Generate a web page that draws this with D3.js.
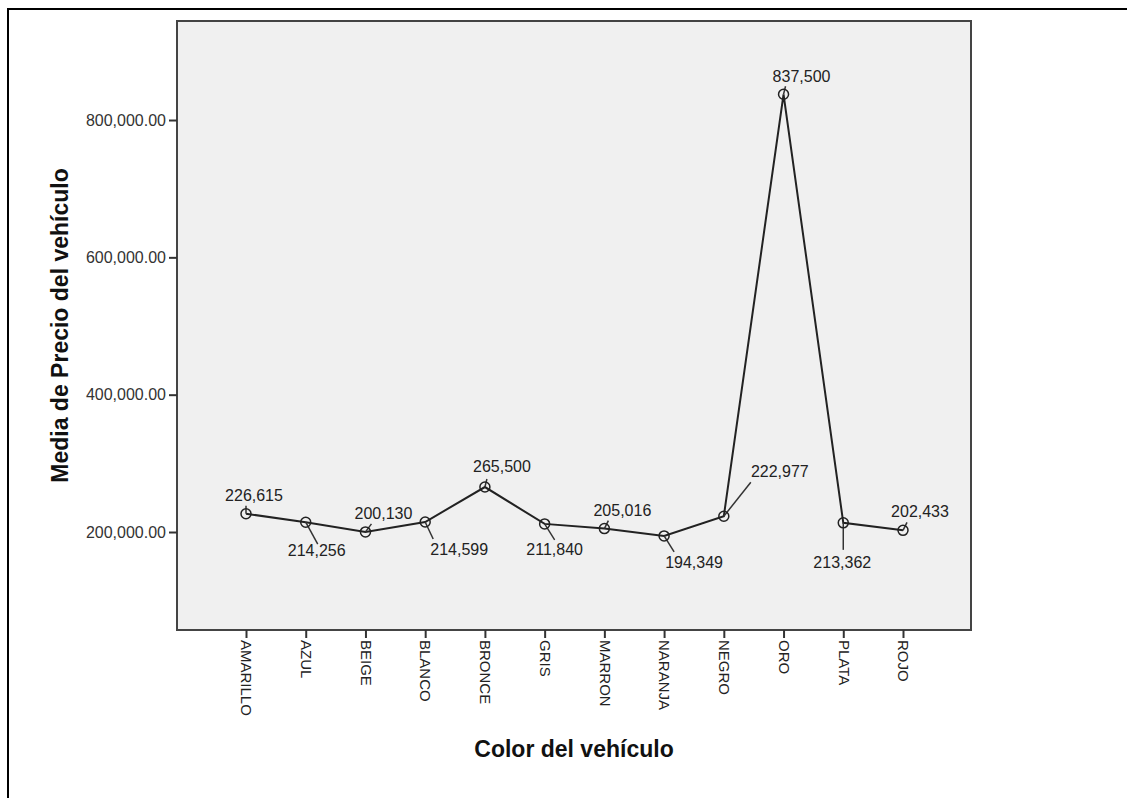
<!DOCTYPE html>
<html>
<head>
<meta charset="utf-8">
<script src="https://cdnjs.cloudflare.com/ajax/libs/d3/7.8.5/d3.min.js"></script>
<style>
  body { margin: 0; background: #fff; }
  svg { display: block; font-family: "Liberation Sans", Arial, sans-serif; }
</style>
</head>
<body>
<script>
// datos
var colores = ["AMARILLO", "AZUL", "BEIGE", "BLANCO", "BRONCE", "GRIS",
               "MARRON", "NARANJA", "NEGRO", "ORO", "PLATA", "ROJO"];
var precios = [226615, 214256, 200130, 214599, 265500, 211840,
               205016, 194349, 222977, 837500, 213362, 202433];
var yTicks = [200000, 400000, 600000, 800000];

// colocacion de etiquetas: texto (centro, linea base) y final de la linea guia, relativo al punto
var textoOff = [[8, -13], [11, 34], [18, -13], [34, 33], [17, -15], [10, 31],
                [18, -13], [30, 32], [56, -39], [18, -12], [-1, 45], [17, -13]];
var guiaOff = [[0, -8], [12, 22], [6, -8], [8, 17], [2, -8], [10, 16],
               [4, -8], [10, 16], [27, -34], [2, -8], [0, 27], [4, -8]];

var W = 1127, H = 798;
var plot = {left: 177, top: 21, right: 971, bottom: 630};

var svg = d3.select("body").append("svg")
  .attr("width", W)
  .attr("height", H);

// marco exterior (solo arriba e izquierda se ven)
svg.append("line").attr("x1", 7).attr("y1", 9).attr("x2", W).attr("y2", 9)
  .attr("stroke", "#000").attr("stroke-width", 2);
svg.append("line").attr("x1", 8).attr("y1", 9).attr("x2", 8).attr("y2", H)
  .attr("stroke", "#000").attr("stroke-width", 2);

var x = d3.scalePoint().domain(colores).range([246, 903]);
var y = d3.scaleLinear().domain([57300, 944200]).range([plot.bottom, plot.top]);

svg.append("rect")
  .attr("x", plot.left).attr("y", plot.top)
  .attr("width", plot.right - plot.left).attr("height", plot.bottom - plot.top)
  .attr("fill", "#f0f0f0")
  .attr("stroke", "#444").attr("stroke-width", 2);

// eje y
var yAxis = d3.axisLeft(y).tickValues(yTicks).tickSize(8)
  .tickFormat(function(d) { return d3.format(",.2f")(d); });
var gy = svg.append("g").attr("transform", "translate(" + plot.left + ",0)").call(yAxis);
gy.select(".domain").remove();
gy.selectAll("line").attr("stroke", "#333").attr("stroke-width", 2);
gy.selectAll("text").attr("font-size", 16).attr("fill", "#333")
  .attr("font-family", "Liberation Sans, Arial, sans-serif").attr("x", -11);

// eje x
var xAxis = d3.axisBottom(x).tickSize(8);
var gx = svg.append("g").attr("transform", "translate(0," + plot.bottom + ")").call(xAxis);
gx.select(".domain").remove();
gx.selectAll("line").attr("stroke", "#333").attr("stroke-width", 2);
gx.selectAll("text")
  .attr("font-size", 15).attr("fill", "#222")
  .attr("font-family", "Liberation Sans, Arial, sans-serif")
  .attr("transform", "rotate(90)")
  .attr("x", 10).attr("y", 0).attr("dy", "0.35em")
  .attr("text-anchor", "start");

// linea
var datos = colores.map(function(c, i) {
  return {color: c, valor: precios[i], t: textoOff[i], g: guiaOff[i]};
});

svg.append("path").datum(datos)
  .attr("fill", "none").attr("stroke", "#222").attr("stroke-width", 2)
  .attr("d", d3.line().x(function(d) { return x(d.color); }).y(function(d) { return y(d.valor); }));

// lineas guia + etiquetas
var et = svg.append("g").selectAll("g").data(datos).enter().append("g");
et.append("line")
  .attr("x1", function(d) { return x(d.color); })
  .attr("y1", function(d) { return y(d.valor); })
  .attr("x2", function(d) { return x(d.color) + d.g[0]; })
  .attr("y2", function(d) { return y(d.valor) + d.g[1]; })
  .attr("stroke", "#333").attr("stroke-width", 1.5);
et.append("text")
  .attr("x", function(d) { return x(d.color) + d.t[0]; })
  .attr("y", function(d) { return y(d.valor) + d.t[1]; })
  .attr("text-anchor", "middle")
  .attr("font-size", 16).attr("fill", "#222")
  .text(function(d) { return d3.format(",")(d.valor); });

svg.append("g").selectAll("circle").data(datos).enter().append("circle")
  .attr("cx", function(d) { return x(d.color); })
  .attr("cy", function(d) { return y(d.valor); })
  .attr("r", 5)
  .attr("fill", "none").attr("stroke", "#222").attr("stroke-width", 1.5);

// titulos
svg.append("text")
  .attr("x", (plot.left + plot.right) / 2).attr("y", 757)
  .attr("text-anchor", "middle").attr("font-size", 23).attr("font-weight", "bold").attr("fill", "#111")
  .text("Color del vehículo");
svg.append("text")
  .attr("transform", "translate(68," + (plot.top + plot.bottom) / 2 + ") rotate(-90)")
  .attr("text-anchor", "middle").attr("font-size", 23).attr("font-weight", "bold").attr("fill", "#111")
  .text("Media de Precio del vehículo");
</script>
</body>
</html>
